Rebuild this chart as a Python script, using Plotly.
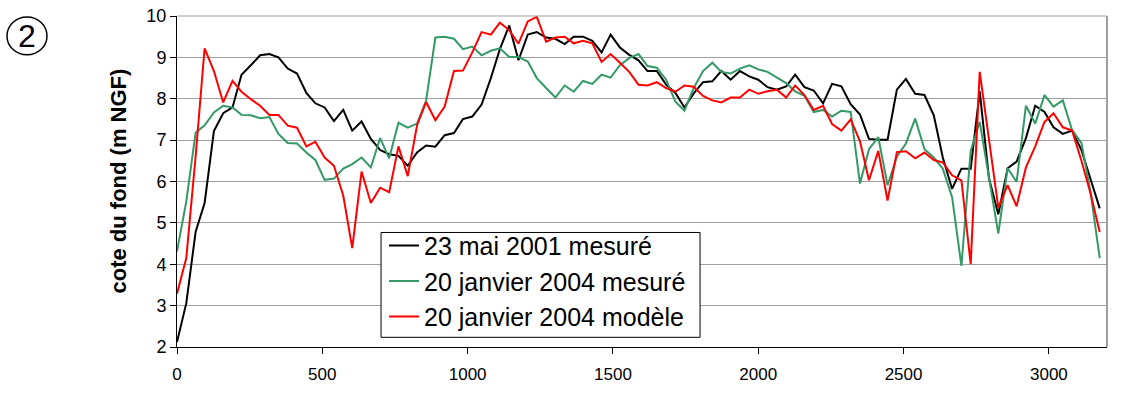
import plotly.graph_objects as go

# Distance along the channel profile (m)
distance = [
    0, 32, 64, 95, 127, 159, 191, 222, 254, 286,
    318, 349, 381, 413, 445, 476, 508, 540, 572, 603,
    635, 667, 699, 730, 762, 794, 826, 857, 889, 921,
    953, 984, 1016, 1048, 1080, 1111, 1143, 1175, 1207, 1238,
    1270, 1302, 1334, 1365, 1397, 1429, 1461, 1492, 1524, 1556,
    1588, 1619, 1651, 1683, 1715, 1746, 1778, 1810, 1842, 1873,
    1905, 1937, 1969, 2000, 2032, 2064, 2096, 2127, 2159, 2191,
    2223, 2254, 2286, 2318, 2350, 2381, 2413, 2445, 2477, 2508,
    2540, 2572, 2604, 2635, 2667, 2699, 2731, 2762, 2794, 2826,
    2858, 2889, 2921, 2953, 2985, 3016, 3048, 3080, 3112, 3143,
    3175,
]

# Bed level, survey of 23 May 2001 (m NGF)
mai_2001_mesure = [
    2.12, 3.06, 4.78, 5.48, 7.22, 7.65, 7.79, 8.58, 8.81, 9.05,
    9.08, 9.00, 8.73, 8.61, 8.14, 7.89, 7.79, 7.46, 7.73, 7.23,
    7.45, 7.03, 6.76, 6.66, 6.62, 6.38, 6.70, 6.87, 6.84, 7.12,
    7.17, 7.51, 7.57, 7.86, 8.50, 9.20, 9.77, 8.93, 9.55, 9.61,
    9.48, 9.45, 9.32, 9.50, 9.50, 9.40, 9.12, 9.55, 9.24, 9.06,
    8.93, 8.67, 8.67, 8.34, 8.14, 7.79, 8.13, 8.40, 8.42, 8.67,
    8.46, 8.67, 8.54, 8.46, 8.28, 8.22, 8.30, 8.58, 8.28, 8.20,
    7.89, 8.36, 8.30, 7.87, 7.62, 7.03, 7.01, 7.01, 8.22, 8.48,
    8.12, 8.09, 7.60, 6.58, 5.82, 6.31, 6.31, 8.18, 6.07, 5.21,
    6.32, 6.48, 7.05, 7.83, 7.68, 7.31, 7.15, 7.23, 6.76, 6.07,
    5.35,
]

# Bed level, survey of 20 January 2004 (m NGF)
janv_2004_mesure = [
    4.31, 5.52, 7.18, 7.36, 7.67, 7.83, 7.79, 7.61, 7.60, 7.53,
    7.56, 7.15, 6.93, 6.92, 6.70, 6.52, 6.04, 6.07, 6.31, 6.42,
    6.58, 6.34, 7.05, 6.56, 7.42, 7.30, 7.40, 7.95, 9.48, 9.50,
    9.45, 9.20, 9.26, 9.05, 9.16, 9.22, 9.01, 9.01, 8.90, 8.50,
    8.26, 8.03, 8.32, 8.17, 8.43, 8.36, 8.58, 8.51, 8.81, 8.98,
    9.08, 8.79, 8.75, 8.46, 7.93, 7.71, 8.26, 8.67, 8.87, 8.65,
    8.61, 8.73, 8.81, 8.71, 8.65, 8.51, 8.38, 8.18, 8.07, 7.68,
    7.73, 7.57, 7.71, 7.68, 5.95, 6.78, 7.07, 5.91, 6.60, 6.92,
    7.52, 6.78, 6.58, 6.31, 5.62, 3.96, 6.74, 7.44, 6.10, 4.74,
    6.32, 5.99, 7.83, 7.40, 8.09, 7.81, 7.96, 7.24, 6.93, 5.76,
    4.15,
]

# Bed level computed by the model for 20 January 2004 (m NGF)
janv_2004_modele = [
    3.29, 4.15, 6.60, 9.22, 8.67, 7.91, 8.43, 8.17, 7.99, 7.83,
    7.61, 7.61, 7.35, 7.30, 6.85, 6.96, 6.58, 6.38, 5.66, 4.39,
    6.24, 5.48, 5.85, 5.74, 6.85, 6.13, 7.36, 7.92, 7.48, 7.81,
    8.67, 8.68, 9.12, 9.61, 9.55, 9.84, 9.66, 9.33, 9.87, 9.98,
    9.38, 9.48, 9.50, 9.34, 9.40, 9.34, 8.89, 9.08, 8.87, 8.65,
    8.34, 8.32, 8.40, 8.26, 8.17, 8.32, 8.29, 8.07, 7.96, 7.91,
    8.03, 8.03, 8.22, 8.12, 8.18, 8.22, 8.03, 8.32, 8.09, 7.73,
    7.83, 7.39, 7.23, 7.50, 6.97, 6.03, 6.74, 5.54, 6.71, 6.73,
    6.56, 6.70, 6.52, 6.46, 6.15, 6.03, 4.00, 8.65, 7.01, 5.37,
    5.91, 5.40, 6.34, 6.85, 7.44, 7.65, 7.31, 7.23, 6.50, 5.72,
    4.78,
]

series = [
    ("23 mai 2001 mesuré", mai_2001_mesure, "#000000"),
    ("20 janvier 2004 mesuré", janv_2004_mesure, "#339966"),
    ("20 janvier 2004 modèle", janv_2004_modele, "#ff0000"),
]

x_ticks = [0, 500, 1000, 1500, 2000, 2500, 3000]
y_ticks = [2, 3, 4, 5, 6, 7, 8, 9, 10]

fig = go.Figure()
for name, values, color in series:
    fig.add_trace(go.Scatter(
        x=distance, y=values, name=name, mode="lines",
        line=dict(color=color, width=2),
    ))

fig.update_layout(
    width=1138, height=394,
    margin=dict(l=177, r=31, t=6, b=47),
    paper_bgcolor="white", plot_bgcolor="white",
    font=dict(family="Liberation Sans, Arial, sans-serif", color="black"),
    showlegend=True,
    # legend entries sit on a framed white box drawn as a shape (tighter padding)
    legend=dict(
        x=0.2226, y=0.3754, xanchor="left", yanchor="top",
        bgcolor="rgba(0,0,0,0)", borderwidth=0,
        font=dict(size=25, family="Liberation Sans, Arial, sans-serif"),
        itemwidth=30, tracegroupgap=0,
    ),
    xaxis=dict(
        range=[0, 3200], tickvals=x_ticks, ticks="outside", ticklen=6,
        tickcolor="black", showgrid=False, zeroline=False,
        showline=True, linecolor="black", linewidth=1,
        ticklabelstandoff=6,
        tickfont=dict(size=17, family="Liberation Sans Narrow, Arial Narrow, Liberation Sans, sans-serif"),
    ),
    yaxis=dict(
        range=[2, 10], tickvals=y_ticks, ticks="outside", ticklen=6,
        tickcolor="black", showgrid=True, gridcolor="#a0a0a0", gridwidth=1,
        zeroline=False, showline=True, linecolor="black", linewidth=1,
        ticklabeloverflow="allow",
        tickfont=dict(size=18),
    ),
    shapes=[
        # grey frame on the right and top of the plotting area
        dict(type="line", xref="paper", yref="paper", x0=1, x1=1, y0=0, y1=1,
             line=dict(color="#a0a0a0", width=2)),
        dict(type="line", xref="paper", yref="paper", x0=0, x1=1, y0=1, y1=1,
             line=dict(color="#a0a0a0", width=1)),
        # legend frame
        dict(type="rect", xref="paper", yref="paper", layer="above",
             x0=0.2194, x1=0.5624, y0=0.0293, y1=0.346,
             fillcolor="white", line=dict(color="black", width=1)),
        # ring around the panel number
        dict(type="circle", xref="paper", yref="paper",
             x0=-0.1828, x1=-0.1398, y0=0.8827, y1=0.9971,
             line=dict(color="black", width=1.5)),
    ],
    annotations=[
        dict(text="<b>cote du fond (m NGF)</b>", xref="paper", yref="paper",
             x=-0.0634, y=0.5, xanchor="center", yanchor="middle",
             textangle=-90, showarrow=False, font=dict(size=22)),
        dict(text="2", xref="paper", yref="paper", x=-0.1613, y=0.9399,
             xanchor="center", yanchor="middle", showarrow=False,
             font=dict(size=32)),
    ],
)

fig.write_html("out.html")
